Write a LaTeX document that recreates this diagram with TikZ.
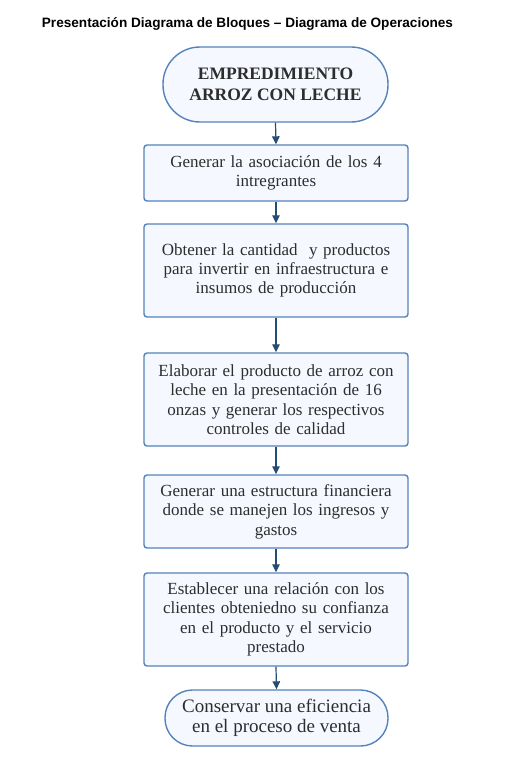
\documentclass[tikz,border=0pt]{standalone}
\usepackage{fontspec}
\setmainfont{Liberation Serif}
\setsansfont{Liberation Sans}
\usetikzlibrary{arrows.meta}
\definecolor{bordc}{RGB}{84,130,186}
\definecolor{fillc}{RGB}{245,249,255}
\definecolor{arrc}{RGB}{36,76,116}
\definecolor{txtc}{RGB}{45,45,45}
\tikzset{
  stepbox/.style={draw=bordc, fill=fillc, line width=1.4pt, rounded corners=3pt,
    minimum width=264pt, text width=256pt, align=center, inner sep=0pt,
    text=txtc, font=\fontsize{17}{19.4}\selectfont},
  termbox/.style={draw=bordc, fill=fillc, line width=1.4pt,
    align=center, inner sep=0pt, text=txtc},
  flow/.style={draw=arrc, line width=1.2pt, -{Triangle[length=8pt,width=7.5pt]}}
}
\begin{document}
\begin{tikzpicture}[x=1pt,y=1pt]
\useasboundingbox (0,0) rectangle (511,-765);
\node[font=\sffamily\bfseries\fontsize{13.6}{15}\selectfont] (title) at (247.5,-23.5)
  {Presentación Diagrama de Bloques -- Diagrama de Operaciones};
\node[termbox, minimum width=225pt, minimum height=75pt, rounded corners=37pt,
  font=\bfseries\fontsize{17.5}{20.5}\selectfont] (t0) at (275.5,-84.5)
  {EMPREDIMIENTO\\ARROZ CON LECHE};
\node[stepbox, minimum height=56pt] (b1) at (276,-173)
  {Generar la asociación de los 4\\intregrantes};
\node[stepbox, minimum height=93pt] (b2) at (276,-270.5)
  {Obtener la cantidad\ \ y productos\\para invertir en infraestructura e\\insumos de producción};
\node[stepbox, minimum height=93pt] (b3) at (276,-399.5)
  {Elaborar el producto de arroz con\\leche en la presentación de 16\\onzas y generar los respectivos\\controles de calidad};
\node[stepbox, minimum height=73pt] (b4) at (276,-511.5)
  {Generar una estructura financiera\\donde se manejen los ingresos y\\gastos};
\node[stepbox, minimum height=93pt] (b5) at (276,-619.5)
  {Establecer una relación con los\\clientes obteniedno su confianza\\en el producto y el servicio\\prestado};
\node[termbox, minimum width=223pt, minimum height=56pt, rounded corners=27.5pt,
  font=\fontsize{19}{20.5}\selectfont] (t1) at (276.5,-718)
  {Conservar una eficiencia\\en el proceso de venta};
\draw[flow] (t0.south) -- (b1.north);
\draw[flow] (b1.south) -- (b2.north);
\draw[flow] (b2.south) -- (b3.north);
\draw[flow] (b3.south) -- (b4.north);
\draw[flow] (b4.south) -- (b5.north);
\draw[flow] (b5.south) -- (t1.north);
\end{tikzpicture}
\end{document}
